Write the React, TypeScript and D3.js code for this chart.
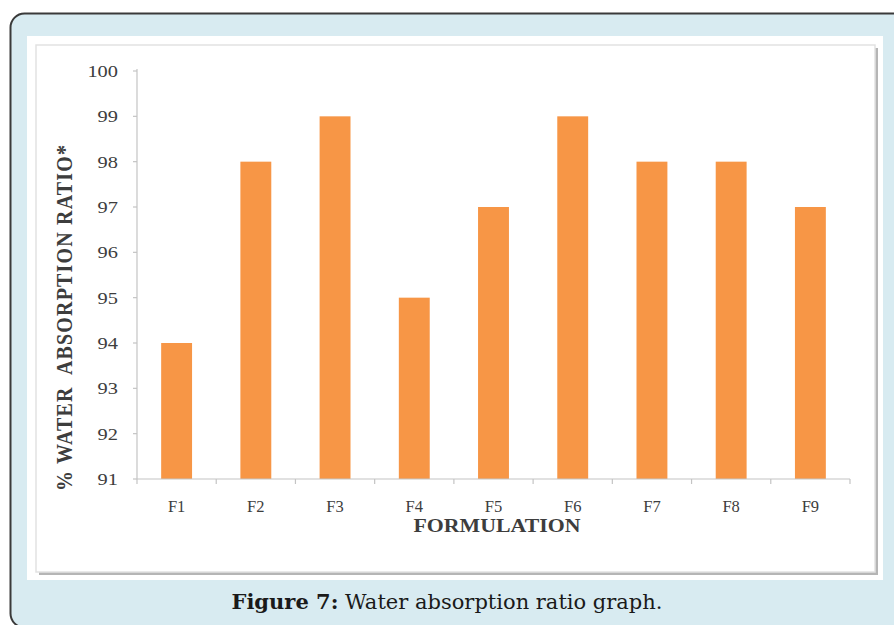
import React from 'react';
import * as d3 from 'd3';

const formulations = ['F1', 'F2', 'F3', 'F4', 'F5', 'F6', 'F7', 'F8', 'F9'];
const absorption = [94, 98, 99, 95, 97, 99, 98, 98, 97];
const yTicks = [91, 92, 93, 94, 95, 96, 97, 98, 99, 100];

const WIDTH = 894;
const HEIGHT = 625;
const PLOT_LEFT = 137;
const PLOT_RIGHT = 850;
const PLOT_TOP = 71;
const PLOT_BOTTOM = 479;

const chartFont = '"Liberation Serif", "Times New Roman", serif';
const captionFont = '"DejaVu Serif", serif';
const textColor = '#3d3d3d';
const axisColor = '#c4c4c4';

export default function App() {
    const x = d3.scaleBand()
        .domain(formulations)
        .range([PLOT_LEFT, PLOT_RIGHT])
        .paddingInner(0.61)
        .paddingOuter(0.305);

    const y = d3.scaleLinear()
        .domain([91, 100])
        .range([PLOT_BOTTOM, PLOT_TOP]);

    const step = x.step();
    const bounds = d3.range(formulations.length + 1).map(i => PLOT_LEFT + i * step);

    return (
        <svg width={WIDTH} height={HEIGHT} style={{ position: 'absolute', left: 0, top: 0 }}>
            {/* outer rounded figure box */}
            <rect x={10.5} y={13.5} width={WIDTH + 30} height={614} rx={14}
                fill="#d8ebf1" stroke="#3a3a3a" strokeWidth={2} />
            {/* white image panel */}
            <rect x={27} y={36} width={856} height={544} fill="#ffffff" />
            {/* frame shadow */}
            <rect x={39} y={48} width={839} height={527} fill="#b5b5b5" />
            <rect x={36} y={45} width={839} height={527} fill="#ffffff" stroke="#e2e2e2" strokeWidth={1.5} />

            {/* bars */}
            {absorption.map((v, i) => (
                <rect key={formulations[i]}
                    x={x(formulations[i])}
                    y={y(v)}
                    width={x.bandwidth()}
                    height={y(91) - y(v)}
                    fill="#f79646" />
            ))}

            {/* y axis */}
            <line x1={PLOT_LEFT} x2={PLOT_LEFT} y1={y(100) - 2} y2={y(91)} stroke={axisColor} strokeWidth={1.2} />
            {yTicks.map(t => (
                <g key={t}>
                    <line x1={PLOT_LEFT - 4} x2={PLOT_LEFT} y1={y(t)} y2={y(t)} stroke={axisColor} strokeWidth={1.2} />
                    <text transform={`translate(${PLOT_LEFT - 19},${y(t)}) scale(1.2,1)`} dy="0.35em" textAnchor="end"
                        fontFamily={chartFont} fontSize={17} fill={textColor}>{t}</text>
                </g>
            ))}

            {/* x axis */}
            <line x1={PLOT_LEFT} x2={PLOT_RIGHT} y1={y(91)} y2={y(91)} stroke={axisColor} strokeWidth={1.2} />
            {bounds.map((b, i) => (
                <line key={i} x1={b} x2={b} y1={y(91)} y2={y(91) + 5} stroke={axisColor} strokeWidth={1.2} />
            ))}
            {formulations.map(f => (
                <text key={f} x={(x(f) as number) + x.bandwidth() / 2} y={512} textAnchor="middle"
                    fontFamily={chartFont} fontSize={16.5} fill={textColor}>{f}</text>
            ))}

            <text transform="translate(497,532) scale(1.15,1)" textAnchor="middle" fontFamily={chartFont} fontSize={19}
                fontWeight="bold" fill={textColor}>FORMULATION</text>
            <text transform="translate(72,318) rotate(-90) scale(1,1.2)" textAnchor="middle" fontFamily={chartFont}
                fontSize={20} fontWeight="bold" fill={textColor} textLength={346} lengthAdjust="spacing"
                style={{ whiteSpace: 'pre' }}>
                {'% WATER  ABSORPTION RATIO*'}
            </text>

            {/* caption */}
            <text x={447} y={609} textAnchor="middle" fontFamily={captionFont} fontSize={21} fill="#1a1a1a">
                <tspan fontWeight="bold">Figure 7:</tspan> Water absorption ratio graph.
            </text>
        </svg>
    );
}
